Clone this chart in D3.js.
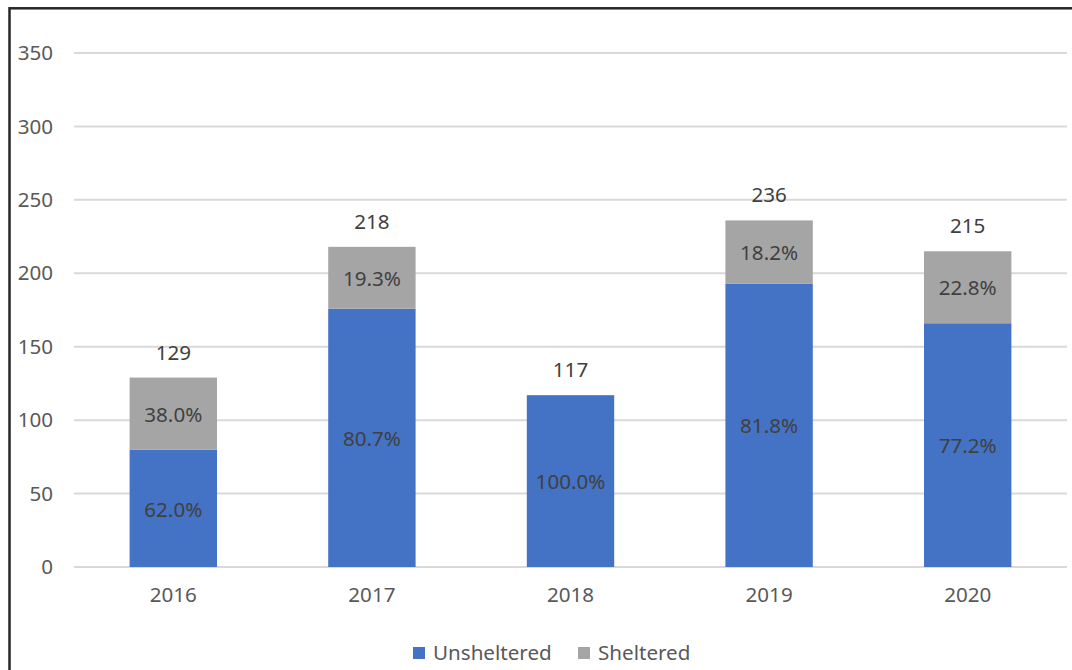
<!DOCTYPE html>
<html>
<head>
<meta charset="utf-8">
<script src="https://cdn.jsdelivr.net/npm/d3@7"></script>
<style>
  html, body { margin: 0; padding: 0; background: #fff; }
  svg { display: block; font-family: "Noto Sans", "Open Sans", sans-serif; }
</style>
</head>
<body>
<svg id="chart" width="1072" height="670"></svg>
<script>
// Homeless counts by year, split into unsheltered and sheltered
const years = ["2016", "2017", "2018", "2019", "2020"];
const totals = [129, 218, 117, 236, 215];
const unshelteredPct = [62.0, 80.7, 100.0, 81.8, 77.2];
const shelteredPct = [38.0, 19.3, 0, 18.2, 22.8];
const yTicks = [0, 50, 100, 150, 200, 250, 300, 350];
const seriesNames = ["Unsheltered", "Sheltered"];
const seriesColors = ["#4472C4", "#A5A5A5"];

const rows = years.map((y, i) => {
  const u = totals[i] * unshelteredPct[i] / 100;
  return { year: y, total: totals[i], Unsheltered: u, Sheltered: totals[i] - u,
           pct: { Unsheltered: unshelteredPct[i], Sheltered: shelteredPct[i] } };
});

const FS = 20.6;
const svg = d3.select("#chart");
const plot = { left: 74, right: 1067, top: 53, bottom: 567 };

const x = d3.scaleBand().domain(years).range([plot.left, plot.right]).paddingInner(0.56).paddingOuter(0.28);
const y = d3.scaleLinear().domain([0, 350]).range([plot.bottom, plot.top]);

// frame
svg.append("rect")
  .attr("x", 9.5).attr("y", 8.3).attr("width", 1100).attr("height", 700)
  .attr("fill", "none").attr("stroke", "#262626").attr("stroke-width", 2.5);

// gridlines
svg.append("g")
  .selectAll("line").data(yTicks).join("line")
  .attr("x1", plot.left).attr("x2", plot.right)
  .attr("y1", d => y(d)).attr("y2", d => y(d))
  .attr("stroke", "#D9D9D9").attr("stroke-width", 2);

// y axis labels
const yAxis = d3.axisLeft(y).tickValues(yTicks).tickSize(0).tickPadding(0);
const gy = svg.append("g").attr("transform", `translate(53,0)`).call(yAxis);
gy.select(".domain").remove();
gy.selectAll("text").attr("fill", "#595959").attr("font-size", FS)
  .attr("font-family", "'Noto Sans', sans-serif");

// x axis labels
const xAxis = d3.axisBottom(x).tickSize(0).tickPadding(0);
const gx = svg.append("g").attr("transform", `translate(0,${plot.bottom + 20})`).call(xAxis);
gx.select(".domain").remove();
gx.selectAll("text").attr("fill", "#595959").attr("font-size", FS)
  .attr("font-family", "'Noto Sans', sans-serif");

// stacked bars
const stack = d3.stack().keys(seriesNames);
const layers = stack(rows);
const color = d3.scaleOrdinal().domain(seriesNames).range(seriesColors);

const layerG = svg.append("g").selectAll("g").data(layers).join("g")
  .attr("fill", d => color(d.key));

layerG.selectAll("rect").data(d => d.map(p => Object.assign({ key: d.key }, p))).join("rect")
  .attr("x", d => x(d.data.year))
  .attr("width", x.bandwidth())
  .attr("y", d => y(d[1]))
  .attr("height", d => y(d[0]) - y(d[1]));

// segment percentage labels
layerG.selectAll("text").data(d => d.map(p => Object.assign({ key: d.key }, p)).filter(p => p.data.pct[p.key] > 0))
  .join("text")
  .attr("x", d => x(d.data.year) + x.bandwidth() / 2)
  .attr("y", d => y((d[0] + d[1]) / 2))
  .attr("dy", "0.4em")
  .attr("text-anchor", "middle")
  .attr("fill", "#404040")
  .attr("font-size", FS)
  .text(d => d.data.pct[d.key].toFixed(1) + "%");

// total labels
svg.append("g").selectAll("text").data(rows).join("text")
  .attr("x", d => x(d.year) + x.bandwidth() / 2)
  .attr("y", d => y(d.total) - 18)
  .attr("text-anchor", "middle")
  .attr("fill", "#404040")
  .attr("font-size", FS)
  .text(d => d.total);

// legend
const legend = svg.append("g").attr("transform", "translate(413,647)");
const legendX = [0, 165];
const li = legend.selectAll("g").data(seriesNames).join("g")
  .attr("transform", (d, i) => `translate(${legendX[i]},0)`);
li.append("rect").attr("width", 12).attr("height", 12).attr("fill", d => color(d));
li.append("text").attr("x", 20).attr("y", 6).attr("dy", "0.35em")
  .attr("fill", "#595959").attr("font-size", FS).text(d => d);
</script>
</body>
</html>
